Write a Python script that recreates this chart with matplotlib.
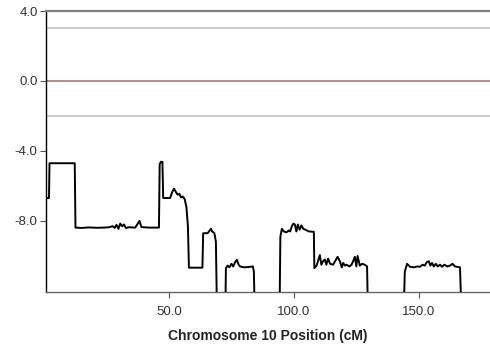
import numpy as np
import matplotlib.pyplot as plt

# LOD-style trace along chromosome 10
# -13 marks stretches where the trace falls below the plotted range
POS_CM = [
    0.8, 2.0, 2.2, 12.3, 12.6, 15, 18, 21, 24, 26, 27.5, 28.3, 29, 29.8, 30.5,
    31.3, 32, 32.8, 34, 36.5, 37.5, 38.2, 39, 42, 46.0,
    46.3, 46.8, 47.4, 47.7, 50.5, 51.3, 52, 52.8, 53.5, 54.2, 54.8, 55.5, 56.3,
    57, 57.6, 58.0, 63.4, 63.7, 65.5, 66.3, 66.8, 67.3, 68.2, 68.8, 69.2,
    72.6, 72.8, 73.5, 74.2, 75, 75.7, 76.5, 77.2, 77.9, 78.5, 80, 82, 83.6,
    84.0, 84.3,
    94.3, 94.6, 95.2, 96, 97, 98, 98.5, 99.2, 99.8, 100.4, 101, 101.6, 102.3,
    103, 103.8, 104.6, 106, 108, 108.2,
    109.1, 110.4, 111.0, 111.7, 112.4, 113.0, 113.7, 114.5, 115.7, 116.5,
    117.5, 118.4, 119.2, 119.7, 120.5, 121.1, 122.2, 123.1, 124.0, 124.4,
    125.0, 125.5, 126.4, 127.3, 128.4, 129.3, 129.6,
    144.0, 144.4, 145.3, 146.5, 148, 149.5, 150.5, 151.5, 152.4, 153.2, 154.0,
    154.6, 155.3, 156, 156.8, 157.6, 158.5, 159.3, 160.2, 161.4, 162.5, 163.5,
    164.5, 166.5, 167.0, 178.5,
]
SCORE = [
    -6.69, -6.69, -4.70, -4.70, -8.38, -8.40, -8.37, -8.39, -8.38, -8.36, -8.30,
    -8.40, -8.22, -8.45, -8.15, -8.30, -8.20, -8.40, -8.36, -8.38, -8.15, -8.00,
    -8.35, -8.38, -8.38,
    -4.75, -4.62, -4.62, -6.69, -6.69, -6.35, -6.15, -6.35, -6.50, -6.45, -6.65,
    -6.60, -6.75, -7.20, -8.30, -10.67, -10.67, -8.70, -8.70, -8.55, -8.45,
    -8.60, -8.70, -9.20, -13,
    -13, -10.70, -10.55, -10.65, -10.45, -10.60, -10.35, -10.22, -10.50, -10.60,
    -10.65, -10.63, -10.60, -10.90, -13,
    -13, -8.90, -8.45, -8.60, -8.65, -8.55, -8.60, -8.30, -8.15, -8.20, -8.60,
    -8.20, -8.50, -8.25, -8.45, -8.50, -8.60, -8.62, -10.70,
    -10.55, -9.95, -10.50, -10.30, -10.20, -10.50, -10.15, -10.45, -10.50,
    -10.30, -10.05, -10.30, -10.65, -10.40, -10.55, -10.50, -10.60, -10.50,
    -10.20, -10.05, -10.60, -10.00, -10.55, -10.45, -10.50, -10.60, -13,
    -13, -10.90, -10.45, -10.62, -10.65, -10.60, -10.62, -10.50, -10.55, -10.35,
    -10.30, -10.55, -10.40, -10.60, -10.45, -10.60, -10.50, -10.62, -10.50,
    -10.60, -10.55, -10.45, -10.60, -10.65, -13, -13,
]

# reference lines: (level, colour)
REF_LEVELS = [3.0, 0.0, -2.0]
REF_COLORS = ["#c8c8c8", "#b98383", "#c8c8c8"]

Y_TICKS = [4.0, 0.0, -4.0, -8.0]
X_TICKS = [50.0, 100.0, 150.0]

plt.rcParams["font.family"] = ["Liberation Sans", "DejaVu Sans"]

fig = plt.figure(figsize=(4.9, 3.46), dpi=100)
ax = fig.add_axes([46 / 490, 1 - 292 / 346, 1 - 46 / 490, (292 - 11) / 346])

for level, color in zip(REF_LEVELS, REF_COLORS):
    ax.axhline(level, color=color, lw=1.3, zorder=1)

ax.plot(POS_CM, SCORE, color="black", lw=1.4, zorder=3)

ax.set_xlim(0.8, 178.5)
ax.set_ylim(-12.06, 4.0)

ax.set_xticks(X_TICKS)
ax.set_xticklabels([f"{t:.1f}" for t in X_TICKS])
ax.set_yticks(Y_TICKS)
ax.set_yticklabels([f"{t:.1f}" for t in Y_TICKS])
ax.tick_params(axis="both", direction="out", length=4, width=0.8,
               labelsize=9.5, labelcolor="#333333", color="#555555")
ax.tick_params(axis="x", pad=6)
ax.tick_params(axis="y", pad=2)

ax.spines["right"].set_visible(False)
ax.spines["left"].set_color("black")
ax.spines["left"].set_linewidth(1.0)
ax.spines["bottom"].set_color("#666666")
ax.spines["bottom"].set_linewidth(1.0)
ax.spines["top"].set_color("#808080")
ax.spines["top"].set_linewidth(1.6)

ax.set_xlabel("Chromosome 10 Position (cM)", fontsize=10, fontweight="bold",
              color="#222222", labelpad=8)

fig.savefig("out.png", dpi=100)
